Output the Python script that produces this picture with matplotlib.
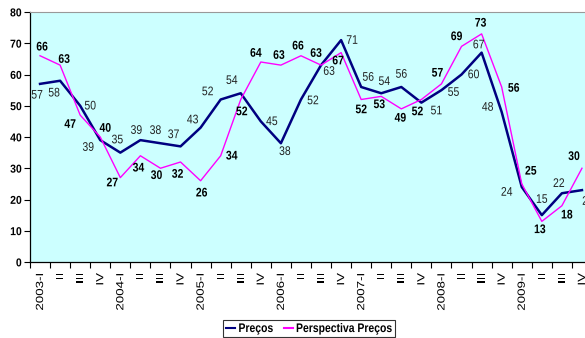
import matplotlib
matplotlib.use("Agg")
from matplotlib import pyplot as plt
from matplotlib.patheffects import AbstractPathEffect
from matplotlib.transforms import Affine2D

plt.rcParams['font.family'] = ['Liberation Sans', 'DejaVu Sans']

### Quarterly series 2003-I .. 2009-IV
quarters = []
for year in range(2003, 2010):
    for q in ["I", "II", "III", "IV"]:
        quarters.append(f"{year}-{q}" if q == "I" else q)

precos = [57, 58, 50, 39, 35, 39, 38, 37, 43, 52, 54, 45, 38, 52,
          63, 71, 56, 54, 56, 51, 55, 60, 67, 48, 24, 15, 22, 23]
perspectiva = [66, 63, 47, 40, 27, 34, 30, 32, 26, 34, 52, 64, 63, 66,
               63, 67, 52, 53, 49, 52, 57, 69, 73, 56, 25, 13, 18, 30]

## label offsets in pixels (dx, dy with dy pointing down)
precos_off = [(-3, 11), (-6, 12), (10, 0), (-12, 7), (-3, -13), (-4, -10),
              (-5, -13), (-7, -12), (-8, -8), (-13, -8), (-9, -13), (11, 0),
              (4, 8), (12, 1), (8, 6), (11, 0), (7, -10), (3, -12), (0, -13),
              (15, 8), (12, 2), (12, 0), (-3, -8), (-14, -5), (-15, 5),
              (0, -16), (-3, -10), (6, 11)]
persp_off = [(2, -9), (4, -6), (-10, 9), (5, -9), (-8, 5), (-2, 12), (-4, 7),
             (-3, 12), (1, 12), (11, 0), (1, 12), (-5, -9), (-2, -10),
             (-3, -10), (-5, -12), (-3, 8), (0, 10), (-2, 8), (-1, 9),
             (-4, 12), (-4, -11), (-5, -10), (-1, -11), (12, 1), (9, -13),
             (-2, 8), (5, 9), (-8, -12)]


class VStretch(AbstractPathEffect):
    """Stretch drawn text vertically (screen y) about its middle or top."""

    def __init__(self, sy=1.2, anchor="center"):
        super().__init__()
        self.sy = sy
        self.anchor = anchor

    def draw_path(self, renderer, gc, tpath, affine, rgbFace=None):
        bb = tpath.get_extents(affine)
        y0 = bb.y1 if self.anchor == "top" else (bb.y0 + bb.y1) / 2
        t = affine + Affine2D().translate(0, -y0).scale(1, self.sy).translate(0, y0)
        renderer.draw_path(gc, tpath, t, rgbFace)


stretch = [VStretch(1.2)]

fig = plt.figure(figsize=(5.85, 3.38), dpi=100)
ax = fig.add_axes([30 / 585, 76 / 338, 562 / 585, 250 / 338])
ax.set_facecolor("#CCFFFF")

x = list(range(len(quarters)))
ax.plot(x, precos, color="#000080", lw=1.8, label="Preços")
ax.plot(x, perspectiva, color="#FF00FF", lw=1.0, label="Perspectiva Preços")

for i in x:
    dx, dy = precos_off[i]
    ax.annotate(str(precos[i]), (i, precos[i]), xytext=(dx, -dy),
                textcoords="offset pixels", ha="center", va="center",
                fontsize=7.5, color="#222222", annotation_clip=False,
                path_effects=stretch)
    dx, dy = persp_off[i]
    ax.annotate(str(perspectiva[i]), (i, perspectiva[i]), xytext=(dx, -dy),
                textcoords="offset pixels", ha="center", va="center",
                fontsize=7.5, fontweight="bold", color="black",
                annotation_clip=False, path_effects=stretch)

ax.set_xlim(-0.5, len(quarters) - 0.5)
ax.set_ylim(0, 80)
ax.set_yticks(range(0, 81, 10))
ax.set_yticklabels([str(v) for v in range(0, 81, 10)], fontweight="bold",
                   fontsize=7.5, path_effects=[VStretch(1.1)])
ax.set_xticks(x)
ax.set_xticklabels(quarters, rotation=90, fontsize=7.5,
                   path_effects=[VStretch(1.28, "top")])
ax.set_xticks([i - 0.5 for i in range(len(quarters) + 1)], minor=True)
ax.tick_params(axis="x", which="major", length=0, pad=8)
ax.tick_params(axis="x", which="minor", length=4, width=0.8, direction="out")
ax.tick_params(axis="y", length=4, width=0.8, direction="out", pad=2)

for side in ["left", "bottom"]:
    ax.spines[side].set_color("black")
    ax.spines[side].set_linewidth(0.9)
ax.spines["top"].set_color("#999999")
ax.spines["right"].set_color("#999999")

leg = fig.legend(loc="center", bbox_to_anchor=(309 / 585, 1 - 328.5 / 338),
                 ncol=2, fontsize=7.5, frameon=True, fancybox=False,
                 handlelength=0.9, handletextpad=0.3, columnspacing=1.0,
                 borderpad=0.3, borderaxespad=0)
leg.get_frame().set_edgecolor("black")
leg.get_frame().set_linewidth(0.8)
for h in leg.get_lines():
    h.set_linewidth(1.5)
for t in leg.get_texts():
    t.set_fontweight("bold")
    t.set_path_effects(stretch)

plt.savefig("out.png", dpi=100)
